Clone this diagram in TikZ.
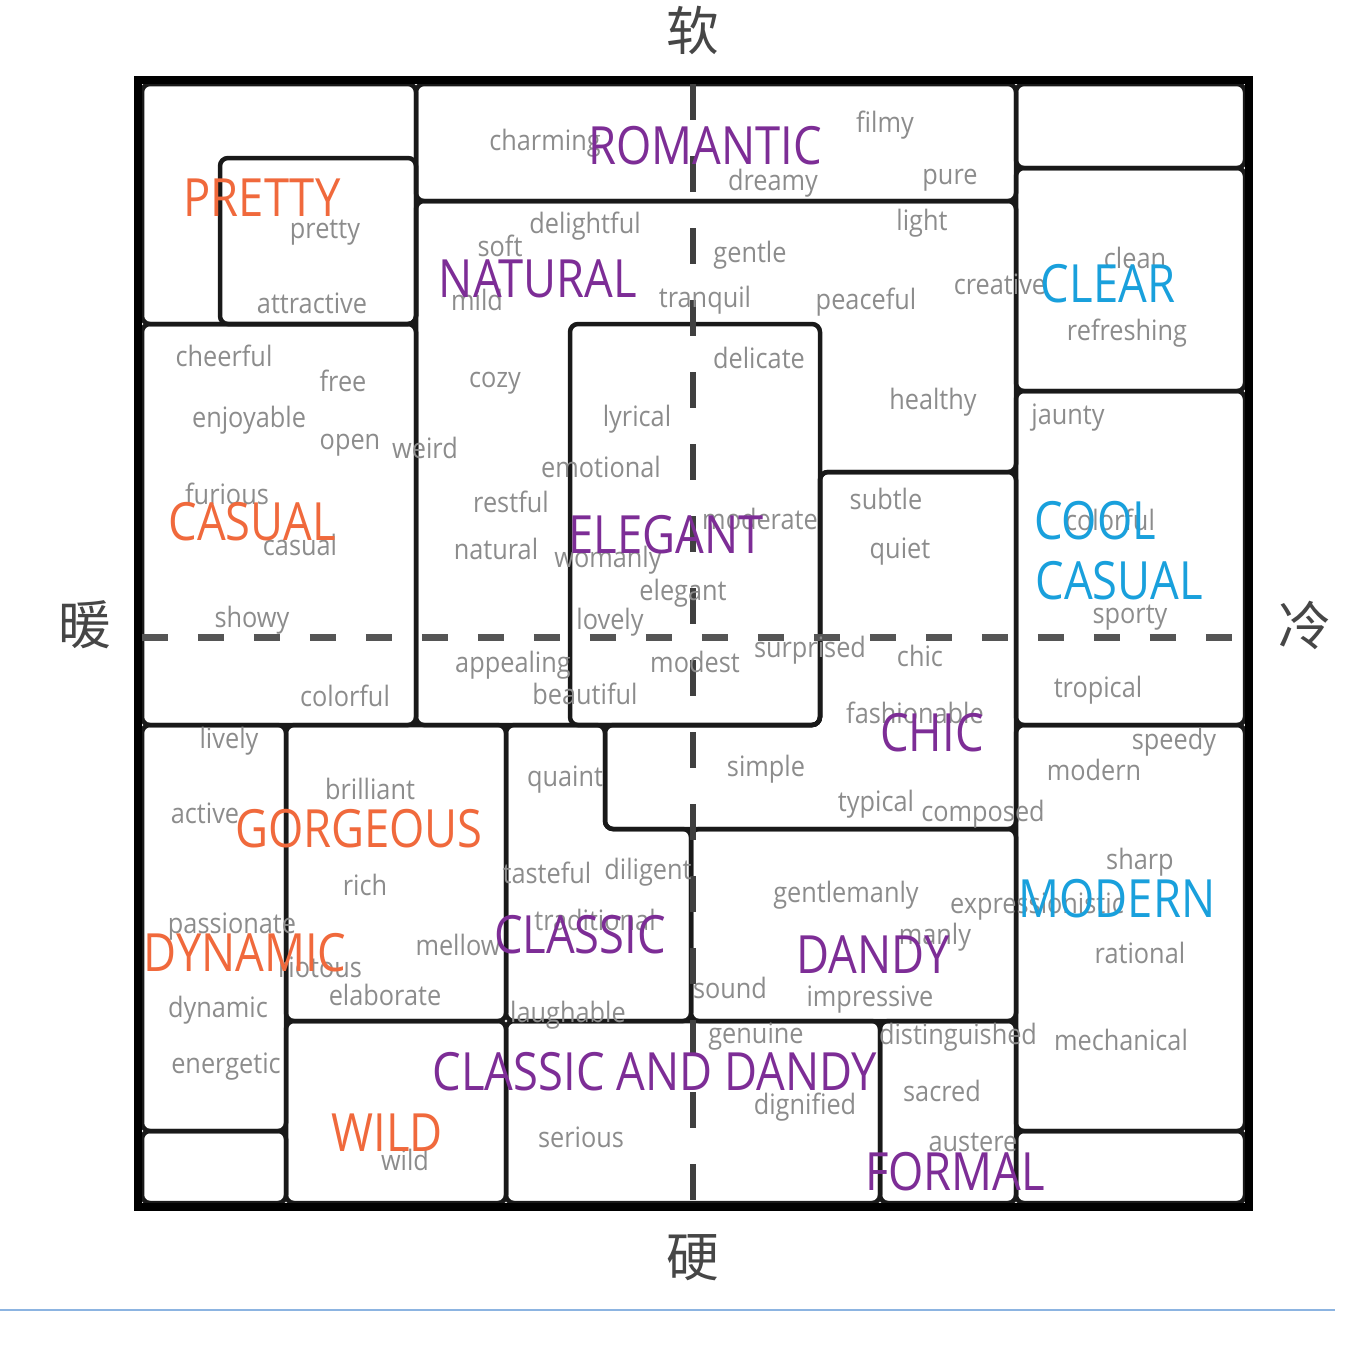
\documentclass[tikz,border=0pt]{standalone}
\usepackage{fontspec}
\usepackage{tikz}
\usepackage{xcolor}
\setmainfont{Open Sans}
\newfontfamily\wordfont[FakeStretch=0.9]{Open Sans}
\newfontfamily\catfont[FakeStretch=0.86]{Open Sans}
\newfontfamily\cjk{Noto Sans CJK SC}

\definecolor{catorange}{RGB}{240,105,60}
\definecolor{catpurple}{RGB}{125,45,150}
\definecolor{catblue}{RGB}{25,160,220}
\definecolor{wordgray}{RGB}{140,140,140}
\definecolor{axisgray}{RGB}{70,70,70}
\definecolor{rulegray}{RGB}{85,85,85}
\definecolor{lineblue}{RGB}{140,180,225}

\begin{document}
\begin{tikzpicture}
  [x=0.1mm,y=-0.1mm,every node/.style={inner sep=0pt},
   area/.style={draw=black!90,line width=0.45mm,rounded corners=0.8mm},
   frame/.style={draw=black,line width=0.8mm},
   hdash/.style={draw=rulegray,line width=0.7mm,dash pattern=on 2.6mm off 3mm},
   vdash/.style={draw=black!75,line width=0.55mm,dash pattern=on 3.6mm off 3.6mm},
   word/.style={text=wordgray,font=\wordfont\fontsize{8}{9}\selectfont},
   cat/.style={font=\catfont\fontsize{15}{17}\selectfont},
   axis/.style={text=axisgray,font=\cjk\fontsize{15}{17}\selectfont}]

  \useasboundingbox (0,0) rectangle (1349,1360);

  \foreach \xa/\ya/\xb/\yb in {142/84/416/324, 220/158/416/324, 416/84/1016/201,
      1016/84/1245/168, 1016/168/1245/391, 1016/391/1245/725, 1016/725/1245/1131,
      1016/1131/1245/1203, 142/324/416/725, 570/324/820/725, 142/725/286/1131,
      142/1131/286/1203, 286/725/506/1021, 286/1021/506/1203, 691/829/1016/1021,
      506/1021/880/1203, 880/1021/1016/1203}
    \draw[area] (\xa,\ya) rectangle (\xb,\yb);

  \draw[area] (416,201) -- (1016,201) -- (1016,472) -- (820,472) -- (820,725) -- (416,725) -- cycle;
  \draw[area] (820,472) -- (1016,472) -- (1016,829) -- (605,829) -- (605,725) -- (820,725) -- cycle;
  \draw[area] (506,725) -- (605,725) -- (605,829) -- (691,829) -- (691,1021) -- (506,1021) -- cycle;

  \draw[frame] (138,80) rectangle (1249,1207);

  \draw[hdash] (142,637) -- (1245,637);
  \draw[vdash] (693,84) -- (693,1203);

  \foreach \w/\x/\y [count=\i] in {charming/545/143, filmy/885/125, dreamy/773/183,
      pure/950/180, pretty/325/233, attractive/312/303, soft/500/246,
      delightful/585/226, mild/477/300, gentle/750/255, light/922/223,
      tranquil/705/300, peaceful/866/302, creative/1000/284, clean/1135/258,
      refreshing/1127/333, cheerful/224/356, free/343/381, cozy/495/383,
      delicate/759/358, enjoyable/249/420, open/350/445, weird/425/448,
      lyrical/637/419, healthy/933/402, jaunty/1068/418, emotional/601/467,
      furious/227/494, restful/511/502, subtle/886/499, moderate/760/519,
      casual/300/545, natural/496/549, womanly/608/560, quiet/900/552,
      colorful/1110/520, elegant/683/593, showy/252/620, lovely/610/622,
      sporty/1130/618, appealing/513/665, modest/695/662, surprised/810/650,
      chic/920/656, colorful/345/696, beautiful/585/694, tropical/1098/690,
      fashionable/915/713, lively/229/741, speedy/1174/742, simple/766/769,
      modern/1094/770, quaint/565/780, brilliant/370/789, active/205/813,
      typical/876/804, composed/983/814, tasteful/547/873, diligent/648/872,
      sharp/1140/862, rich/365/885, gentlemanly/846/895, expressionistic/1037/907,
      manly/935/937, passionate/232/927, traditional/595/920, mellow/458/945,
      rational/1140/953, riotous/320/967, sound/730/988, elaborate/385/995,
      impressive/870/1000, dynamic/218/1010, laughable/568/1015, genuine/756/1037,
      distinguished/958/1037, mechanical/1121/1040, energetic/226/1067,
      dignified/805/1107, sacred/942/1091, serious/581/1137, austere/973/1142,
      wild/405/1160}
    \node[word] (w\i) at (\x,\y) {\w};

  \foreach \t/\c/\x/\y [count=\i] in {PRETTY/catorange/262/198,
      ROMANTIC/catpurple/705/146, NATURAL/catpurple/538/279,
      CLEAR/catblue/1108/284, CASUAL/catorange/252/522,
      ELEGANT/catpurple/666/535, COOL/catblue/1095/521,
      CASUAL/catblue/1119/581, CHIC/catpurple/932/733,
      GORGEOUS/catorange/359/829, DYNAMIC/catorange/245/953,
      CLASSIC/catpurple/580/935, MODERN/catblue/1117/899,
      DANDY/catpurple/873/955, CLASSIC AND DANDY/catpurple/655/1072,
      WILD/catorange/387/1133, FORMAL/catpurple/955/1172}
    \node[cat,text=\c] (c\i) at (\x,\y) {\t};

  \node[axis] (soft) at (693,30) {软};
  \node[axis] (hard) at (693,1258) {硬};
  \node[axis] (warm) at (85,625) {暖};
  \node[axis] (cool) at (1305,625) {冷};

  \draw[lineblue,line width=0.25mm] (0,1310) -- (1335,1310);
\end{tikzpicture}
\end{document}
